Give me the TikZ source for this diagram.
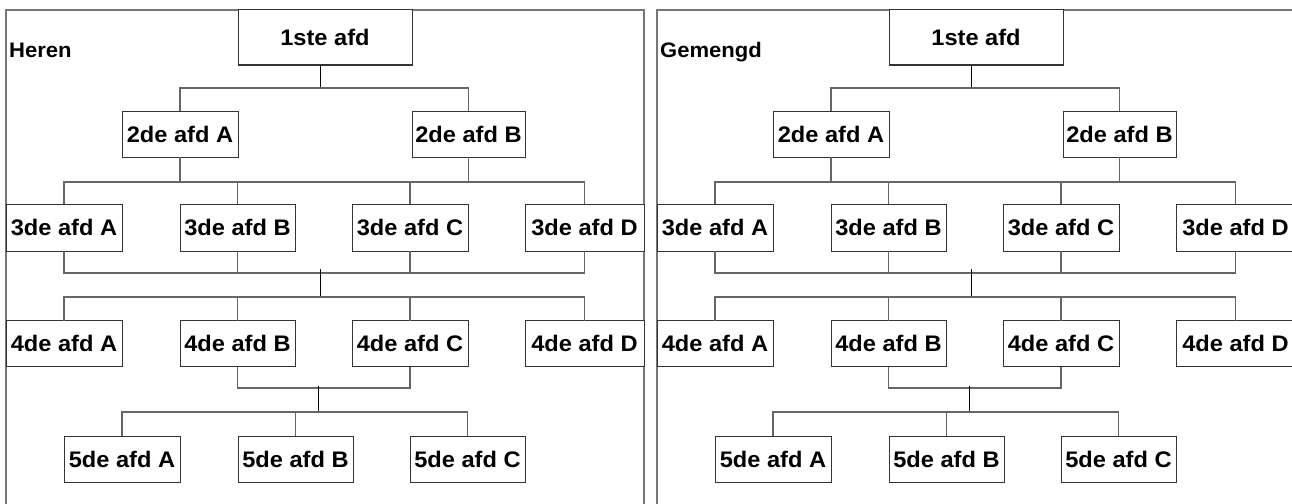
\documentclass[tikz,border=0pt]{standalone}
\usepackage{fontspec}
\setmainfont[FakeStretch=1.05]{Liberation Sans}
\definecolor{boxc}{HTML}{333333}
\definecolor{linec}{HTML}{666666}
\definecolor{framec}{HTML}{777777}
\tikzset{
  box/.style={draw=boxc, line width=1pt, fill=white, minimum height=46pt, inner sep=0pt, outer sep=0pt, font=\fontsize{22.5}{25}\selectfont\bfseries},
  conn/.style={draw=linec, line width=1.2pt},
  midline/.style={draw=black, line width=0.7pt},
  frameline/.style={draw=framec, line width=1.5pt},
  paneltitle/.style={anchor=base west, inner sep=0pt, font=\fontsize{21}{24}\selectfont\bfseries},
}
\begin{document}
\begin{tikzpicture}[x=1pt, y=-1pt]
\useasboundingbox (0,0) rectangle (1292,503);
\clip (0,0) rectangle (1292,503);
\fill[white] (0,0) rectangle (1292,503);
\foreach \p/\dx/\title in {L/0/Heren,R/651/Gemengd}{
\begin{scope}[xshift=\dx]
  \draw[frameline] (6,510) -- (6,10) -- (644,10) -- (644,510);
  \node[paneltitle] (\p-title) at (9,58) {\title};
  % boxes
  \node[box, minimum width=174pt, minimum height=55pt] (\p1) at (325,37.5) {1ste afd};
  \node[box, minimum width=116pt] (\p2A) at (180,134) {2de afd A};
  \node[box, minimum width=113pt] (\p2B) at (468.5,134) {2de afd B};
  \node[box, minimum width=116pt, minimum height=47pt] (\p3A) at (64,227.5) {3de afd A};
  \node[box, minimum width=115pt, minimum height=47pt] (\p3B) at (237.5,227.5) {3de afd B};
  \node[box, minimum width=116pt, minimum height=47pt] (\p3C) at (410,227.5) {3de afd C};
  \node[box, minimum width=119pt, minimum height=47pt] (\p3D) at (584.5,227.5) {3de afd D};
  \node[box, minimum width=116pt] (\p4A) at (64,343.5) {4de afd A};
  \node[box, minimum width=115pt] (\p4B) at (237.5,343.5) {4de afd B};
  \node[box, minimum width=116pt] (\p4C) at (410,343.5) {4de afd C};
  \node[box, minimum width=119pt] (\p4D) at (584.5,343.5) {4de afd D};
  \node[box, minimum width=116pt] (\p5A) at (122,459) {5de afd A};
  \node[box, minimum width=115pt] (\p5B) at (295.5,459) {5de afd B};
  \node[box, minimum width=115pt] (\p5C) at (467.5,459) {5de afd C};
  % junctions
  \coordinate (\p-j1) at (320,88);
  \coordinate (\p-j2) at (320,182);
  \coordinate (\p-j3) at (320,273);
  \coordinate (\p-j4) at (320,297);
  \coordinate (\p-j5) at (318,388);
  \coordinate (\p-j6) at (318,412);
  % level 1 -> 2
  \draw[midline] (\p1.south -| \p-j1) -- (\p-j1);
  \draw[conn] (\p2A.north) -- (\p2A.north |- \p-j1) -- (\p2B.north |- \p-j1) -- (\p2B.north);
  % level 2 -> 3
  \draw[conn] (\p2A.south) -- (\p2A.south |- \p-j2);
  \draw[conn] (\p2B.south) -- (\p2B.south |- \p-j2);
  \draw[conn] (\p3A.north) -- (\p3A.north |- \p-j2) -- (\p3D.north |- \p-j2) -- (\p3D.north);
  \draw[conn] (\p3B.north) -- (\p3B.north |- \p-j2);
  \draw[conn] (\p3C.north) -- (\p3C.north |- \p-j2);
  % level 3 -> 4
  \draw[conn] (\p3A.south) -- (\p3A.south |- \p-j3) -- (\p3D.south |- \p-j3) -- (\p3D.south);
  \draw[conn] (\p3B.south) -- (\p3B.south |- \p-j3);
  \draw[conn] (\p3C.south) -- (\p3C.south |- \p-j3);
  \draw[midline, shorten <=-4pt] (\p-j3) -- (\p-j4);
  \draw[conn] (\p4A.north) -- (\p4A.north |- \p-j4) -- (\p4D.north |- \p-j4) -- (\p4D.north);
  \draw[conn] (\p4B.north) -- (\p4B.north |- \p-j4);
  \draw[conn] (\p4C.north) -- (\p4C.north |- \p-j4);
  % level 4 -> 5
  \draw[conn] (\p4B.south) -- (\p4B.south |- \p-j5) -- (\p4C.south |- \p-j5) -- (\p4C.south);
  \draw[midline, shorten <=-2pt] (\p-j5) -- (\p-j6);
  \draw[conn] (\p5A.north) -- (\p5A.north |- \p-j6) -- (\p5C.north |- \p-j6) -- (\p5C.north);
  \draw[conn] (\p5B.north) -- (\p5B.north |- \p-j6);
\end{scope}
}
\end{tikzpicture}
\end{document}
